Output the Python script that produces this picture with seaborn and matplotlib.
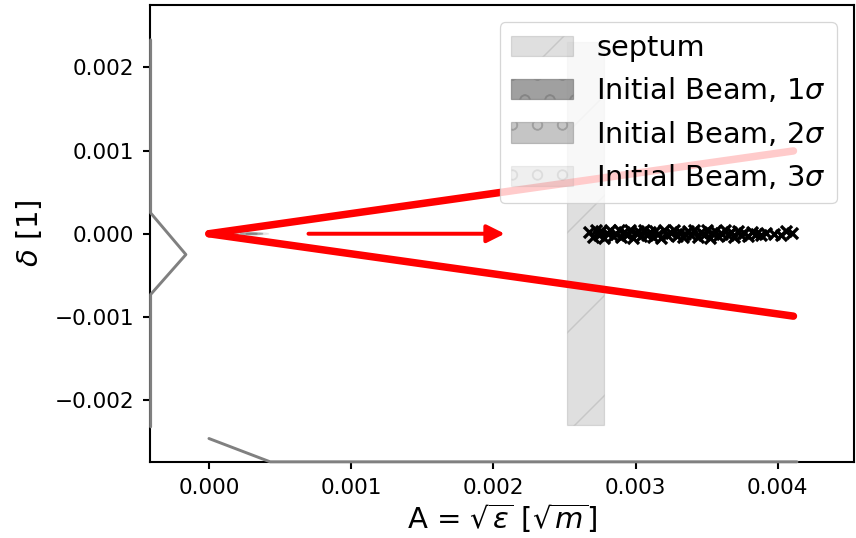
import numpy as np
import pandas as pd
import matplotlib
matplotlib.use("Agg")
import matplotlib.pyplot as plt
import seaborn as sns
from matplotlib.patches import Rectangle, Ellipse

# ---------------- data ----------------
track_A = [0.0, 0.00411]
track_up = [0.0, 0.000995]
track_dn = [0.0, -0.000990]

sepx_left_A = [-0.00041, -0.00041, -0.000162, -0.00041, -0.00041]
sepx_left_d = [0.00233, 0.00025, -0.00025, -0.00073, -0.00232]
sepx_bot_A = [0.0, 0.00043, 0.004135]
sepx_bot_d = [-0.00246, -0.00274, -0.00274]

final_A = [2.67, 2.70, 2.72, 2.74, 2.76, 2.78, 2.80, 2.82, 2.84, 2.86, 2.88, 2.90,
           2.92, 2.94, 2.96, 2.98, 3.00, 3.02, 3.04, 3.06, 3.08, 3.10, 3.12, 3.14,
           3.16, 3.18, 3.20, 3.22, 3.25, 3.27, 3.29, 3.31, 3.33, 3.35, 3.37, 3.39,
           3.41, 3.44, 3.46, 3.48, 3.50, 3.52, 3.54, 3.56, 3.58, 3.61, 3.63, 3.65,
           3.67, 3.69, 3.72, 3.74, 3.76, 3.79, 3.82, 3.85, 3.88, 3.92, 3.97, 4.02,
           4.06, 4.10]
final_d = [0.2, -0.4, 0.5, -0.1, 0.3, -0.5, 0.1, 0.4, -0.3, 0.0, 0.5, -0.4,
           0.2, -0.2, 0.4, -0.5, 0.1, 0.3, -0.3, 0.5, -0.1, 0.2, -0.4, 0.3,
           0.0, -0.5, 0.4, -0.2, 0.1, 0.5, -0.3, 0.2, -0.4, 0.0, 0.3, -0.1,
           0.5, -0.4, 0.2, -0.2, 0.4, -0.5, 0.1, 0.3, -0.3, 0.0, 0.5, -0.2,
           0.2, -0.4, 0.3, -0.1, 0.1, -0.3, 0.2, 0.0, -0.2, 0.1, 0.0, -0.1,
           0.3, 0.1]

septum_A = [0.00252, 0.00278]
septum_d = [-0.0023, 0.0023]

arrow_A = [0.0007, 0.00208]
arrow_d = [0.0, 0.0]

beam_center = [0.0003, 0.0]
beam_width = [0.00008, 0.00016, 0.00024]
beam_height = [0.000012, 0.000022, 0.000032]
beam_labels = [r"Initial Beam, 1$\sigma$", r"Initial Beam, 2$\sigma$", r"Initial Beam, 3$\sigma$"]
beam_alpha = [0.75, 0.45, 0.12]

xticks = [0.000, 0.001, 0.002, 0.003, 0.004]
yticks = [-0.002, -0.001, 0.000, 0.001, 0.002]

# ---------------- style ----------------
DPI = 300
sns.set_style("ticks")
plt.rcParams["font.family"] = ["DejaVu Sans"]
plt.rcParams["mathtext.fontset"] = "dejavusans"
plt.rcParams["hatch.linewidth"] = 0.35
plt.rcParams["axes.linewidth"] = 0.5
for k in ["text.color", "axes.labelcolor", "xtick.color", "ytick.color", "axes.edgecolor"]:
    plt.rcParams[k] = "black"

fig = plt.figure(figsize=(856 / DPI, 538 / DPI), dpi=DPI)
ax = fig.add_axes([0.1758, 0.1413, 0.8219, 0.8494])

# separatrix-like gray boundaries
sns.lineplot(x=sepx_left_A, y=sepx_left_d, sort=False, estimator=None, ax=ax,
             color="gray", lw=0.7, zorder=3, clip_on=False)
sns.lineplot(x=sepx_bot_A, y=sepx_bot_d, sort=False, estimator=None, ax=ax,
             color="gray", lw=0.7, zorder=3, clip_on=False)

# septum
ax.add_patch(Rectangle((septum_A[0], septum_d[0]), septum_A[1] - septum_A[0],
                       septum_d[1] - septum_d[0], facecolor="gray", edgecolor="gray",
                       alpha=0.25, hatch="/", lw=0.3, label="septum", zorder=1))

# tracks (red)
sns.lineplot(x=track_A, y=track_up, ax=ax, color="red", lw=1.8,
             solid_capstyle="round", zorder=2)
sns.lineplot(x=track_A, y=track_dn, ax=ax, color="red", lw=1.8,
             solid_capstyle="round", zorder=2)

# initial beam ellipses
for w, h, lab, a in zip(beam_width, beam_height, beam_labels, beam_alpha):
    ax.add_patch(Ellipse(beam_center, w, h, facecolor="gray", edgecolor="gray",
                         alpha=a, hatch="oo", lw=0.3, label=lab, zorder=2.5))

# final particles
df_final = pd.DataFrame({"A": np.array(final_A) * 1e-3, "d": np.array(final_d) * 1e-4})
sns.scatterplot(data=df_final, x="A", y="d", ax=ax, marker="x", color="black",
                s=7, linewidth=0.8, zorder=3, legend=False)

# arrow
ax.annotate("", xy=(arrow_A[1], arrow_d[1]), xytext=(arrow_A[0], arrow_d[0]),
            arrowprops=dict(arrowstyle="-|>,head_length=0.4,head_width=0.2",
                            color="red", lw=0.95, mutation_scale=9,
                            shrinkA=0, shrinkB=0), zorder=3)

ax.set_xlim(-0.000411, 0.004536)
ax.set_ylim(-0.002742, 0.002748)
ax.set_xticks(xticks)
ax.set_yticks(yticks)
ax.tick_params(axis="both", labelsize=5.2, length=1.7, width=0.5, pad=2.2,
               colors="black")

ax.set_xlabel(r"A = $\sqrt{\varepsilon}$ [$\sqrt{m}$]", fontsize=7.0, labelpad=0.8)
ax.set_ylabel(r"$\delta$ [1]", fontsize=7.0, labelpad=2.6)

leg = ax.legend(loc="upper right", fontsize=6.9, handlelength=2.15,
                borderaxespad=0.6, frameon=True)
leg.get_frame().set_linewidth(0.3)
leg.get_frame().set_edgecolor("0.8")
leg.set_zorder(5)

fig.savefig("out.png", dpi=DPI)
